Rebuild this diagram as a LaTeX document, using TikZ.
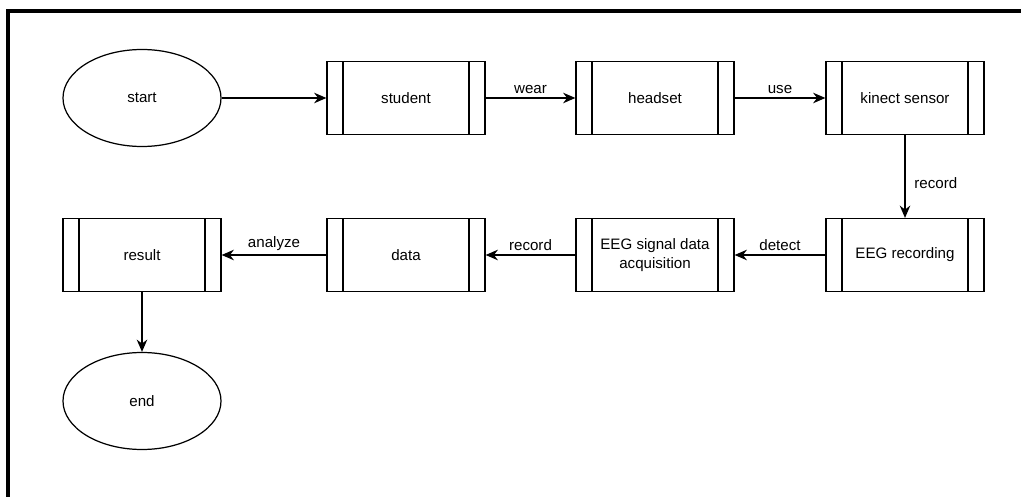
\documentclass[tikz,border=0pt]{standalone}
\usepackage{fontspec}
\setmainfont{Liberation Sans}
\usetikzlibrary{arrows.meta,shapes.geometric}

\tikzset{
    proc/.style={draw, line width=0.7pt, minimum width=3.16cm, minimum height=1.46cm,
        inner xsep=2pt, align=center, font=\fontsize{8.6}{10.5}\selectfont,
        path picture={
            \draw[line width=0.7pt] ([xshift=0.32cm]path picture bounding box.north west) -- ([xshift=0.32cm]path picture bounding box.south west);
            \draw[line width=0.7pt] ([xshift=-0.32cm]path picture bounding box.north east) -- ([xshift=-0.32cm]path picture bounding box.south east);
        }},
    term/.style={draw, ellipse, line width=0.7pt, minimum width=3.16cm, minimum height=1.94cm,
        font=\fontsize{8.6}{10.5}\selectfont},
    flow/.style={-{Stealth[length=7pt,width=6pt]}, line width=0.7pt},
    lbl/.style={font=\fontsize{8.6}{10.5}\selectfont, inner sep=2pt}
}

\begin{document}
\begin{tikzpicture}
    \useasboundingbox (0,0) rectangle (20.42,-9.94);
    % frame
    \draw[line width=1.8pt] (0.16,-9.94) -- (0.16,-0.22) -- (20.42,-0.22);

    % top row
    \node[term] (start) at (2.84,-1.96) {start};
    \node[proc] (student) at (8.12,-1.96) {student};
    \node[proc] (headset) at (13.1,-1.96) {headset};
    \node[proc] (kinect) at (18.1,-1.96) {kinect sensor};

    % bottom row
    \node[proc] (eegrec) at (18.1,-5.1) {EEG recording};
    \node[proc] (eegsig) at (13.1,-5.1) {EEG signal data\\acquisition};
    \node[proc] (data) at (8.12,-5.1) {data};
    \node[proc] (result) at (2.84,-5.1) {result};
    \node[term] (end) at (2.84,-8.02) {end};

    \draw[flow] (start) -- (student);
    \draw[flow] (student) -- node[lbl, above] {wear} (headset);
    \draw[flow] (headset) -- node[lbl, above] {use} (kinect);
    \draw[flow] (kinect) -- node[lbl, right, xshift=3pt, yshift=-4pt] {record} (eegrec);
    \draw[flow] (eegrec) -- node[lbl, above] {detect} (eegsig);
    \draw[flow] (eegsig) -- node[lbl, above] {record} (data);
    \draw[flow] (data) -- node[lbl, above] {analyze} (result);
    \draw[flow] (result) -- (end);
\end{tikzpicture}
\end{document}
